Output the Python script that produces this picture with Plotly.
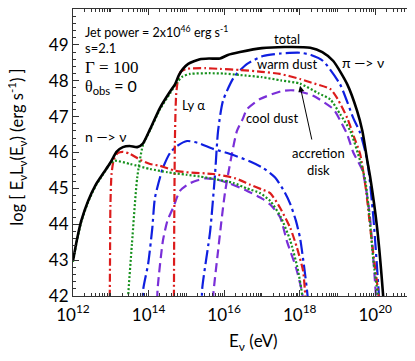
import plotly.graph_objects as go

#---DATA (log10 E [eV], log10 E L(E) [erg/s])---
total_x = [12.00, 12.10, 12.22, 12.40, 12.60, 12.80, 12.98, 13.06, 13.15, 13.32, 13.50, 13.70, 13.85, 14.04, 14.30,
           14.57, 14.70, 14.80, 14.91, 15.05, 15.36, 15.60, 15.89, 16.10, 16.42, 17.00, 17.60, 18.28, 18.60, 18.89,
           19.26, 19.52, 19.66, 19.79, 19.87, 20.05, 20.21, 20.24]
total_y = [42.98, 43.55, 44.10, 44.65, 45.10, 45.42, 45.70, 45.85, 46.02, 46.15, 46.18, 46.15, 46.25, 46.65, 47.24,
           47.70, 47.90, 48.15, 48.33, 48.47, 48.60, 48.62, 48.62, 48.72, 48.80, 48.91, 48.94, 48.92, 48.80, 48.55,
           47.90, 47.16, 46.60, 45.77, 45.29, 43.90, 42.00, 41.50]

# accretion disk
disk_lo_x = [12.00, 12.10, 12.22, 12.40, 12.60, 12.80, 12.98, 13.10, 13.51, 14.04, 14.50, 15.00, 15.36, 15.80, 16.25,
             16.60, 16.95, 17.22, 17.50, 17.75, 17.95, 18.07, 18.10]
disk_lo_y = [42.95, 43.52, 44.07, 44.62, 45.07, 45.40, 45.68, 45.77, 45.68, 45.54, 45.45, 45.38, 45.33, 45.25, 45.15,
             45.00, 44.87, 44.65, 44.20, 43.55, 42.75, 42.00, 41.50]
disk_hi_x = [13.44, 13.46, 13.56, 13.70, 13.85, 14.04, 14.30, 14.57, 14.75, 14.90, 15.10, 15.60, 16.00, 16.42, 17.00,
             17.50, 18.01, 18.50, 18.81, 19.07, 19.34, 19.60, 19.74, 19.85, 19.95, 20.07, 20.10]
disk_hi_y = [41.50, 42.00, 43.45, 45.30, 46.20, 46.62, 47.20, 47.65, 47.95, 48.12, 48.19, 48.21, 48.20, 48.16, 48.10,
             48.01, 47.92, 47.65, 47.48, 47.07, 46.60, 45.77, 45.20, 44.20, 43.00, 42.00, 41.50]

# Ly alpha
lya_lo_x = [12.97, 12.98, 12.99, 13.02, 13.08, 13.18, 13.32, 13.51, 13.77, 14.04, 14.30, 14.70, 15.00, 15.71, 16.30,
            16.69, 17.00, 17.22, 17.48, 17.75, 17.93, 18.09, 18.15, 18.18]
lya_lo_y = [41.50, 43.00, 44.50, 45.40, 45.80, 45.98, 46.02, 45.96, 45.80, 45.68, 45.63, 45.49, 45.45, 45.40, 45.28,
            45.10, 44.97, 44.87, 44.46, 43.90, 43.34, 42.70, 42.00, 41.50]
lya_hi_x = [14.67, 14.68, 14.70, 14.73, 14.78, 14.85, 15.00, 15.50, 15.89, 16.42, 17.00, 17.48, 18.01, 18.30, 18.81,
            19.00, 19.26, 19.45, 19.60, 19.75, 19.90, 20.09, 20.12]
lya_hi_y = [41.50, 44.00, 46.50, 47.60, 48.05, 48.25, 48.33, 48.35, 48.33, 48.30, 48.25, 48.19, 48.05, 47.95, 47.77,
            47.50, 46.96, 46.40, 45.96, 45.00, 43.60, 42.00, 41.50]

# warm dust
warm_lo_x = [13.84, 13.86, 13.99, 14.10, 14.17, 14.38, 14.57, 14.75, 15.02, 15.30, 15.71, 16.16, 16.69, 17.03, 17.35,
             17.60, 17.75, 17.90, 18.01, 18.12, 18.21, 18.24]
warm_lo_y = [41.50, 42.20, 42.90, 43.90, 44.74, 45.57, 45.99, 46.18, 46.32, 46.27, 46.10, 45.96, 45.75, 45.57, 45.30,
             44.90, 44.57, 44.10, 43.62, 42.80, 42.00, 41.50]
warm_hi_x = [15.41, 15.42, 15.63, 15.76, 15.84, 15.97, 16.26, 16.61, 17.03, 17.50, 18.01, 18.30, 18.62, 19.07, 19.42,
             19.60, 19.79, 19.95, 20.10, 20.13]
warm_hi_y = [41.50, 42.20, 43.80, 45.40, 46.60, 47.44, 48.10, 48.47, 48.69, 48.76, 48.78, 48.72, 48.55, 47.90, 46.96,
             46.55, 45.77, 44.20, 42.00, 41.50]

# cool dust
cool_lo_x = [14.22, 14.24, 14.38, 14.50, 14.65, 14.83, 15.05, 15.28, 15.50, 15.80, 16.16, 16.61, 17.03, 17.22, 17.48,
             17.67, 17.90, 18.07, 18.10]
cool_lo_y = [41.50, 42.20, 43.54, 44.10, 44.46, 44.93, 45.12, 45.22, 45.28, 45.25, 45.13, 44.93, 44.70, 44.55, 44.20,
             43.50, 42.80, 42.06, 41.50]
cool_hi_x = [15.70, 15.71, 15.84, 16.03, 16.34, 16.50, 16.60, 16.95, 17.56, 17.88, 18.36, 18.89, 19.07, 19.26, 19.42,
             19.66, 19.85, 20.02, 20.05]
cool_hi_y = [41.50, 42.00, 43.26, 44.93, 46.60, 46.95, 47.20, 47.49, 47.72, 47.73, 47.58, 47.21, 46.90, 46.50, 46.00,
             45.50, 44.30, 42.00, 41.50]

x_tick_exp = [12, 14, 16, 18, 20]
y_ticks = [42, 43, 44, 45, 46, 47, 48, 49, 50]

#---PLOT---
fig = go.Figure()

def add_line(xs, ys, color, dash, width=2.2):
    fig.add_trace(go.Scatter(
        x=[10.0 ** v for v in xs], y=ys, mode='lines',
        line=dict(color=color, dash=dash, width=width, shape='spline', smoothing=0.6),
        showlegend=False, hoverinfo='skip'))

add_line(cool_lo_x, cool_lo_y, '#7a2fd8', '9px,5px')
add_line(cool_hi_x, cool_hi_y, '#7a2fd8', '9px,5px')
add_line(warm_lo_x, warm_lo_y, '#0f1fe0', '14px,4px,3px,4px')
add_line(warm_hi_x, warm_hi_y, '#0f1fe0', '14px,4px,3px,4px')
add_line(lya_lo_x, lya_lo_y, '#dc1c1c', '8px,3px,2px,3px')
add_line(lya_hi_x, lya_hi_y, '#dc1c1c', '8px,3px,2px,3px')
add_line(disk_lo_x, disk_lo_y, '#17911d', '2px,2px')
add_line(disk_hi_x, disk_hi_y, '#17911d', '2px,2px')
add_line(total_x, total_y, 'black', 'solid', width=2.6)

#---STYLE---
# page body keeps its 8px default margin, so the figure is 8px smaller
font = 'Lato, Open Sans, sans-serif'
fig.update_layout(
    width=407, height=353, autosize=False,
    margin=dict(l=65, r=2, t=1, b=65),
    plot_bgcolor='white', paper_bgcolor='white',
    font=dict(family=font, color='black', size=13))

fig.update_xaxes(
    type='log', range=[12, 21], showgrid=False, zeroline=False,
    showline=True, linecolor='#333', linewidth=1.2, mirror='ticks',
    ticks='inside', ticklen=6, tickcolor='#333',
    tickvals=[10.0 ** e for e in x_tick_exp],
    ticktext=['10<sup>%d</sup>' % e for e in x_tick_exp],
    tickfont=dict(size=17, family=font), ticklabelstandoff=3,
    minor=dict(ticks='inside', ticklen=3, tickcolor='#333', dtick='D1'))
fig.update_yaxes(
    range=[42, 50], showgrid=False, zeroline=False,
    showline=True, linecolor='#333', linewidth=1.2, mirror='ticks',
    ticks='inside', ticklen=6, tickcolor='#333',
    tickvals=y_ticks, tickfont=dict(size=17, family=font),
    minor=dict(ticks='inside', ticklen=3, tickcolor='#333', dtick=0.2))

#---TEXT---
def note(x, y, text, size=13, xanchor='center', family=font):
    fig.add_annotation(x=x, y=y, text=text, showarrow=False, xanchor=xanchor, yanchor='middle',
                       font=dict(size=size, family=family, color='black'))

note(12.26, 49.36, 'Jet power = 2x10<sup>46</sup> erg s<sup>-1</sup>', size=12.5, xanchor='left')
note(12.26, 48.91, 's=2.1', xanchor='left')
note(12.26, 48.38, 'Γ = 100', size=17, xanchor='left', family='Liberation Serif, serif')
note(12.26, 47.85, '<span style="font-family:Liberation Serif">θ</span><sub>obs</sub> = 0',
     size=16, xanchor='left')
note(12.26, 46.46, 'n —> ν', size=14, xanchor='left')
note(14.83, 47.33, 'Ly α', size=13, xanchor='left')
note(17.67, 49.16, 'total')
note(17.67, 48.47, 'warm dust')
note(19.68, 48.52, 'π —> ν', size=14)
note(17.27, 46.96, 'cool dust')
note(18.49, 45.74, 'accretion<br>disk')

# arrow pointing at the disk curve
fig.add_annotation(x=18.01, y=47.86, ax=18.33, ay=46.32, xref='x', yref='y', axref='x', ayref='y',
                   text='', showarrow=True, arrowhead=2, arrowsize=1.2, arrowwidth=1, arrowcolor='black')

# axis titles
fig.add_annotation(xref='paper', yref='paper', x=0.53, y=-0.11, yanchor='top', showarrow=False,
                   text='E<sub>ν</sub> (eV)', font=dict(size=17, family=font))
fig.add_annotation(xref='paper', yref='paper', x=-0.165, y=0.52, xanchor='center', textangle=-90, showarrow=False,
                   text='log [ E<sub>ν</sub>L<sub>ν</sub>(E<sub>ν</sub>) (erg s<sup>-1</sup>) ]',
                   font=dict(size=16.5, family=font))

fig.write_html("out.html")
